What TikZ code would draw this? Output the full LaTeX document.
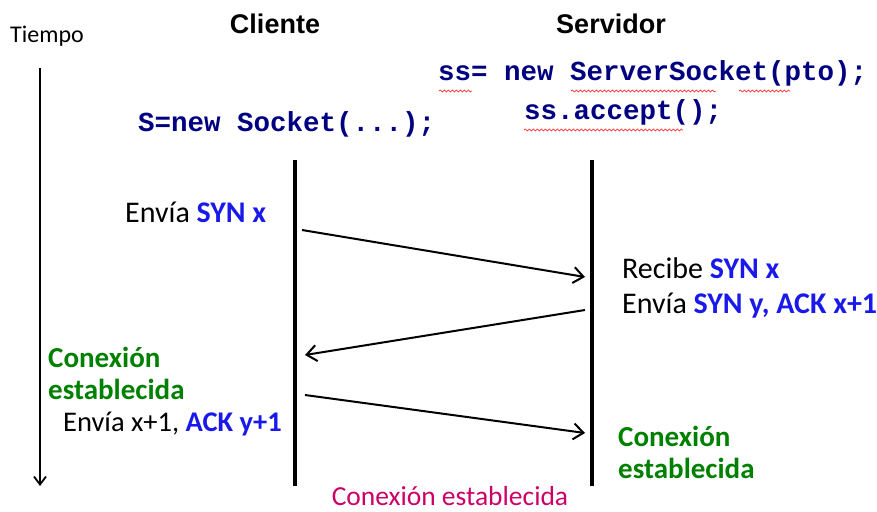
\documentclass[tikz,border=0pt]{standalone}
\usepackage{fontspec}
\setmainfont{Carlito}
\newfontfamily\headfont{Liberation Sans}
\newfontfamily\codefont{Liberation Mono}
\usetikzlibrary{arrows.meta,decorations.pathmorphing}

\definecolor{synblue}{RGB}{25,25,235}
\definecolor{okgreen}{RGB}{0,128,0}
\definecolor{estpink}{RGB}{204,0,102}
\definecolor{codenavy}{RGB}{0,0,128}

\tikzset{
	head/.style={font=\headfont\bfseries\fontsize{27}{30}\selectfont},
	code/.style={font=\codefont\bfseries\fontsize{27.5}{30}\selectfont, text=codenavy, anchor=west, inner sep=0pt},
	txt/.style={font=\fontsize{30}{35}\selectfont, anchor=west, inner sep=0pt, align=left},
	ok/.style={txt, font=\bfseries\fontsize{29}{32}\selectfont, text=okgreen},
	life/.style={line width=3.5pt},
	msg/.style={line width=2pt, -{Straight Barb[length=10pt,width=16pt]}},
	squig/.style={red!80, line width=0.7pt, decorate, decoration={snake, amplitude=1pt, segment length=4pt}}
}
\newcommand{\syn}[1]{\textcolor{synblue}{\bfseries #1}}

\begin{document}
\begin{tikzpicture}[x=1pt,y=-1pt]
	\useasboundingbox (0,0) rectangle (877,511);
	
	% time axis
	\node[font=\fontsize{24}{26}\selectfont, anchor=west, inner sep=0pt] (tiempo) at (10,36) {Tiempo};
	\coordinate (t0) at (40,68);
	\coordinate (t1) at (40,486);
	\draw[line width=1.8pt, -{Straight Barb[length=8pt,width=12pt]}] (t0) -- (t1);
	
	% headers and code
	\node[head] (cliente) at (275,24) {Cliente};
	\node[head] (servidor) at (611,24) {Servidor};
	\node[code] (ss) at (438,73) {ss= new ServerSocket(pto);};
	\node[code] (acc) at (524,112) {ss.accept();};
	\node[code] (sock) at (138,124) {S=new Socket(...);};
	\draw[squig] (439,91) -- (472,91);
	\draw[squig] (571,91) -- (716,91);
	\draw[squig] (739,91) -- (790,91);
	\draw[squig] (524,130) -- (683,130);
	
	% life lines
	\coordinate (c0) at (295,160);
	\coordinate (c1) at (295,486);
	\coordinate (s0) at (592,160);
	\coordinate (s1) at (592,486);
	\draw[life] (c0) -- (c1);
	\draw[life] (s0) -- (s1);
	
	% messages
	\coordinate (m1a) at (302,230);
	\coordinate (m1b) at (585,277);
	\coordinate (m2a) at (585,310);
	\coordinate (m2b) at (305,355);
	\coordinate (m3a) at (305,395);
	\coordinate (m3b) at (585,433);
	\draw[msg] (m1a) -- (m1b);
	\draw[msg] (m2a) -- (m2b);
	\draw[msg] (m3a) -- (m3b);
	
	% labels
	\node[txt] (env1) at (125,212) {Envía \syn{SYN x}};
	\node[txt] (rec) at (622,288) {Recibe \syn{SYN x}\\Envía \syn{SYN y, ACK x+1}};
	\node[ok] (okc) at (48,373) {Conexión\\establecida};
	\node[txt, font=\fontsize{28.5}{32}\selectfont] (env3) at (63,424) {Envía x+1, \syn{ACK y+1}};
	\node[ok] (oks) at (618,452) {Conexión\\establecida};
	\node[font=\fontsize{27.5}{30}\selectfont, text=estpink, inner sep=0pt] (est) at (450,496) {Conexión establecida};
	
\end{tikzpicture}
\end{document}
